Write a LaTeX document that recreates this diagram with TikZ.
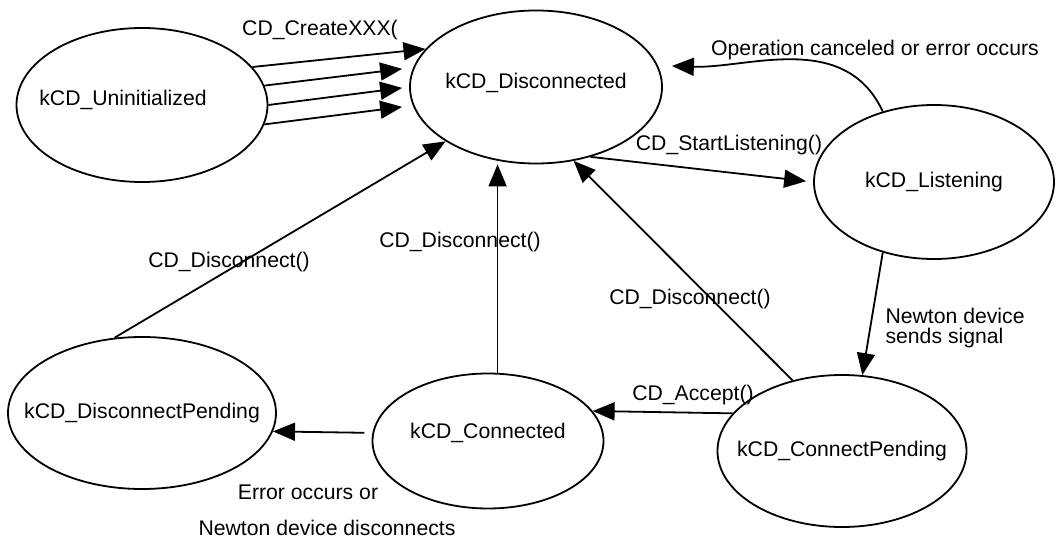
\documentclass[tikz,border=0pt]{standalone}
\usepackage{fontspec}
\setmainfont{Liberation Sans}
\usepackage{tikz}
\usetikzlibrary{shapes.geometric, arrows.meta}

\begin{document}
\begin{tikzpicture}[x=0.5pt, y=-0.5pt, line width=0.9pt,
    every node/.style={font=\fontsize{10.6}{12}\selectfont},
    state/.style={draw, ellipse, inner sep=0pt},
    arr/.style={-{Triangle[length=11pt, width=9pt]}}]
    \useasboundingbox (0,0) rectangle (1056,540);

    \node [state, minimum width=125.5pt, minimum height=77pt, label={[xshift=-9.5pt, yshift=2.5pt]center:kCD\_Uninitialized}] (uninit) at (142,105) {};
    \node [state, minimum width=126pt, minimum height=76.5pt, label={[yshift=2pt]center:kCD\_Disconnected}] (disc) at (536,87) {};
    \node [state, minimum width=120pt, minimum height=77pt, label={center:kCD\_Listening}] (listen) at (934,182) {};
    \node [state, minimum width=124.5pt, minimum height=76pt, label={center:kCD\_ConnectPending}] (cpend) at (842,451) {};
    \node [state, minimum width=115.5pt, minimum height=67.5pt, label={[yshift=4pt]center:kCD\_Connected}] (conn) at (488,441) {};
    \node [state, minimum width=134pt, minimum height=76pt, label={center:kCD\_DisconnectPending}] (dpend) at (142,413) {};

    \draw [arr] (uninit.19) -- (disc.161);
    \draw [arr, shorten >=3.5pt] (uninit.9) -- ([yshift=9.5pt]disc.west);
    \draw [arr, shorten >=3.5pt] (uninit.east) -- (disc.west);
    \draw [arr, shorten >=3.5pt] (uninit.-9) -- ([yshift=-9.5pt]disc.west);
    \draw [arr, shorten >=3.5pt] (disc.-52) -- (listen.west);
    \draw [arr, shorten >=7pt] (listen.126) to [out=115, in=-2] (disc.10);
    \draw [arr] (listen.-126) -- (cpend.75);
    \draw [arr] (cpend.161) -- (conn.16);
    \draw [arr] (cpend.125) -- (disc.-63);
    \draw [arr] (conn.82) -- (conn.82 |- disc.south);
    \draw [arr] (dpend.110) -- (disc.211);
    \draw [arr, shorten <=4pt] (conn.176) -- (dpend.-8);

    \node (createlbl) at (320,30) {CD\_CreateXXX(};
    \node (startlbl) at (729,145) {CD\_StartListening()};
    \node (cancellbl) at (875,50) {Operation canceled or error occurs};
    \node [anchor=west, align=left, font=\fontsize{10.6}{10}\selectfont] (signallbl) at (878,328) {Newton device\\sends signal};
    \node (acceptlbl) at (693,395) {CD\_Accept()};
    \node (disclbla) at (690,299) {CD\_Disconnect()};
    \node (disclblb) at (460,242) {CD\_Disconnect()};
    \node (disclblc) at (229,262) {CD\_Disconnect()};
    \node (errorlbl) at (308,492) {Error occurs or};
    \node (newtonlbl) at (327,528) {Newton device disconnects};
\end{tikzpicture}
\end{document}
